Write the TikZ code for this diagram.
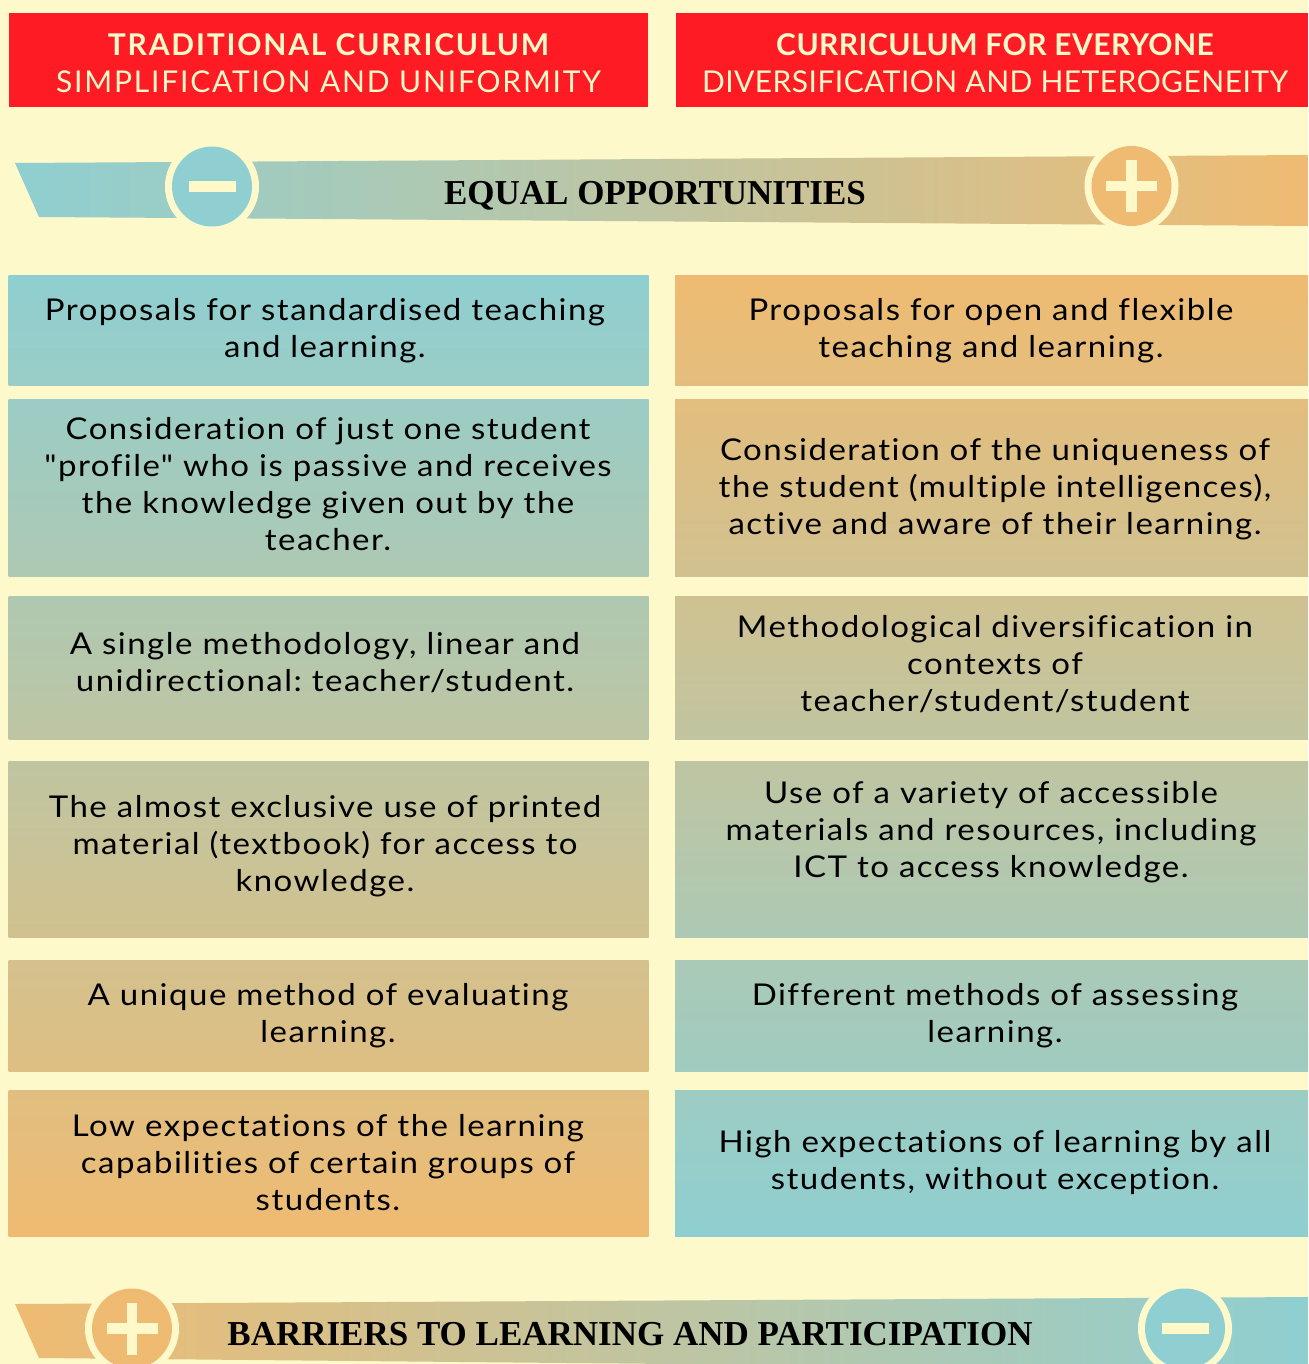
\documentclass[tikz,border=0pt]{standalone}
\usepackage{fontspec}
\setmainfont{Lato}
\newfontfamily\bodyfont{Lato}[FakeStretch=1.1, LetterSpace=5, Ligatures={NoCommon}]
\newfontfamily\hdrfontL{Lato}[LetterSpace=6, Ligatures={NoCommon}]
\newfontfamily\hdrfontR{Lato}[LetterSpace=1.5, Ligatures={NoCommon}]
\newfontfamily\bannerfont{Liberation Serif}
\definecolor{bg}{HTML}{FEF9CA}
\definecolor{tealc}{HTML}{8FCFD1}
\definecolor{orng}{HTML}{EFBB72}
\definecolor{redc}{HTML}{FF1B24}
\definecolor{cream}{HTML}{FFF8C8}
\frenchspacing
\begin{document}
\begin{tikzpicture}[x=1pt,y=-1pt,
  hdr/.style={fill=redc, inner sep=0pt, minimum width=#1, minimum height=94pt},
  hdrtxt/.style={inner sep=0pt, text=cream, align=center},
  cellL/.style={inner sep=0pt, minimum width=640pt},
  cellR/.style={inner sep=0pt, minimum width=633pt},
  txt/.style={align=center, inner sep=0pt, font=\bodyfont\fontsize{30}{37}\selectfont},
  bantxt/.style={font=\bannerfont\bfseries\fontsize{35}{40}\selectfont, anchor=base, inner sep=0pt},
  ring/.style={circle, fill=bg, minimum size=94pt, inner sep=0pt},
  disc/.style={circle, minimum size=80pt, inner sep=0pt},
  bar/.style={fill=cream, inner sep=0pt}
]
\useasboundingbox (0,0) rectangle (1308,1364);
\fill[bg] (0,0) rectangle (1308,1364);

% headers
\node[hdr=639pt] (h1) at (328.5,60) {};
\node[hdr=632pt] (h2) at (992,60) {};
\node[hdrtxt, font=\hdrfontL\fontsize{30}{37}\selectfont] (h1t) at (328.5,63) {\bfseries TRADITIONAL CURRICULUM\\SIMPLIFICATION AND UNIFORMITY};
\node[hdrtxt, font=\hdrfontR\fontsize{30}{37}\selectfont] (h2t) at (995,63) {\bfseries CURRICULUM FOR EVERYONE\\DIVERSIFICATION AND HETEROGENEITY};

% top banner
\shade[left color=tealc, right color=orng] (15,163) -- (1308,155) -- (1308,226) -- (39,217) -- cycle;
\node[ring] (r1) at (212,186.5) {};
\node[disc, fill=tealc] (d1) at (212,186.5) {};
\node[bar, minimum width=47pt, minimum height=11pt] (m1) at (d1.center) {};
\node[ring] (r2) at (1131.5,186) {};
\node[disc, fill=orng] (d2) at (1131.5,186) {};
\node[bar, minimum width=51pt, minimum height=10.5pt] (p2a) at (d2.center) {};
\node[bar, minimum width=10.5pt, minimum height=52pt] (p2b) at (d2.center) {};
\node[bantxt] (eq) at (655,205) {EQUAL OPPORTUNITIES};

% left column
\node[cellL, minimum height=110pt, top color=orng!0!tealc, bottom color=orng!11.4!tealc] (l1) at (328.5,330) {};
\node[cellL, minimum height=177pt, top color=orng!12.9!tealc, bottom color=orng!31.3!tealc] (l2) at (328.5,487.5) {};
\node[cellL, minimum height=143pt, top color=orng!33.4!tealc, bottom color=orng!48.3!tealc] (l3) at (328.5,667.5) {};
\node[cellL, minimum height=176pt, top color=orng!50.6!tealc, bottom color=orng!68.9!tealc] (l4) at (328.5,849) {};
\node[cellL, minimum height=111pt, top color=orng!71.3!tealc, bottom color=orng!82.8!tealc] (l5) at (328.5,1015.5) {};
\node[cellL, minimum height=146pt, top color=orng!84.8!tealc, bottom color=orng!100!tealc] (l6) at (328.5,1163) {};

% right column
\node[cellR, minimum height=110pt, top color=tealc!0!orng, bottom color=tealc!11.4!orng] (r1b) at (991.5,330) {};
\node[cellR, minimum height=177pt, top color=tealc!12.9!orng, bottom color=tealc!31.3!orng] (r2b) at (991.5,487.5) {};
\node[cellR, minimum height=143pt, top color=tealc!33.4!orng, bottom color=tealc!48.3!orng] (r3b) at (991.5,667.5) {};
\node[cellR, minimum height=176pt, top color=tealc!50.6!orng, bottom color=tealc!68.9!orng] (r4b) at (991.5,849) {};
\node[cellR, minimum height=111pt, top color=tealc!71.3!orng, bottom color=tealc!82.8!orng] (r5b) at (991.5,1015.5) {};
\node[cellR, minimum height=146pt, top color=tealc!84.8!orng, bottom color=tealc!100!orng] (r6b) at (991.5,1163) {};

% texts left
\node[txt] (tl1) at (325,331) {Proposals for standardised teaching\\and learning.};
\node[txt] (tl2) at (328,484.5) {Consideration of just one student\\"profile" who is passive and receives\\the knowledge given out by the\\teacher.};
\node[txt] (tl3) at (325,663) {A single methodology, linear and\\unidirectional: teacher/student.};
\node[txt] (tl4) at (325,846) {The almost exclusive use of printed\\material (textbook) for access to\\knowledge.};
\node[txt] (tl5) at (328,1016) {A unique method of evaluating\\learning.};
\node[txt] (tl6) at (328,1163) {Low expectations of the learning\\capabilities of certain groups of\\students.};

% texts right
\node[txt] (tr1) at (991,331) {Proposals for open and flexible\\teaching and learning.};
\node[txt] (tr2) at (995,489.5) {Consideration of the uniqueness of\\the student (multiple intelligences),\\active and aware of their learning.};
\node[txt] (tr3) at (995,664) {Methodological diversification in\\contexts of\\teacher/student/student};
\node[txt] (tr4) at (991,832.5) {Use of a variety of accessible\\materials and resources, including\\ICT to access knowledge.};
\node[txt] (tr5) at (995,1016) {Different methods of assessing\\learning.};
\node[txt] (tr6) at (995,1163) {High expectations of learning by all\\students, without exception.};

% bottom banner
\shade[left color=orng, right color=tealc] (15,1304) -- (1308,1297) -- (1308,1370) -- (39,1358) -- cycle;
\node[ring] (r3) at (132,1328.5) {};
\node[disc, fill=orng] (d3) at (132,1328.5) {};
\node[bar, minimum width=51pt, minimum height=10.5pt] (p3a) at (d3.center) {};
\node[bar, minimum width=10.5pt, minimum height=52pt] (p3b) at (d3.center) {};
\node[ring] (r4) at (1185,1328.5) {};
\node[disc, fill=tealc] (d4) at (1185,1328.5) {};
\node[bar, minimum width=47pt, minimum height=11pt] (m4) at (d4.center) {};
\node[bantxt] (bar1) at (630,1345) {BARRIERS TO LEARNING AND PARTICIPATION};
\end{tikzpicture}
\end{document}
